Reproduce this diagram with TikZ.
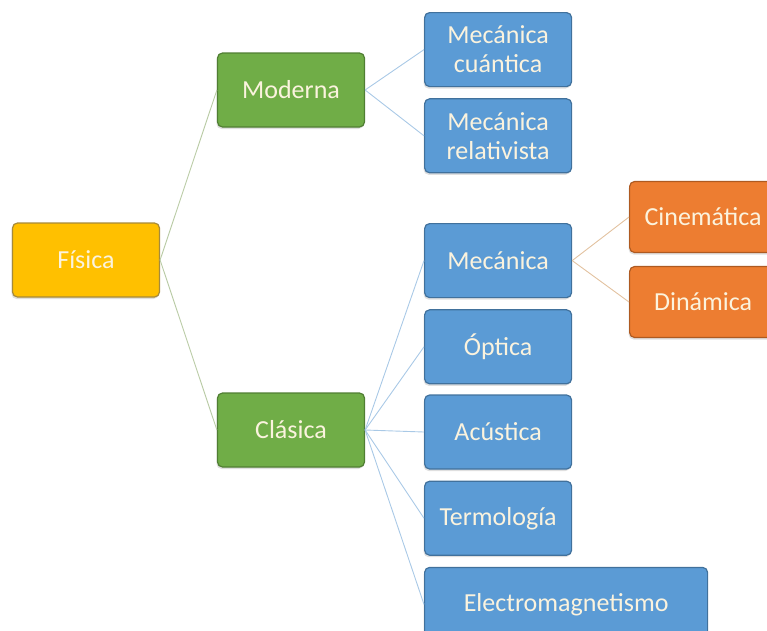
\documentclass[tikz,border=0pt]{standalone}
\usepackage{fontspec}
\setmainfont{Carlito}
\usetikzlibrary{positioning, shadows}
\definecolor{amarillo}{HTML}{FFC000}
\definecolor{amarilloborde}{HTML}{A68A3A}
\definecolor{verde}{HTML}{70AD47}
\definecolor{verdeborde}{HTML}{507E33}
\definecolor{azul}{HTML}{5B9BD5}
\definecolor{azulborde}{HTML}{41719C}
\definecolor{naranja}{HTML}{ED7D31}
\definecolor{naranjaborde}{HTML}{AE5A21}
\definecolor{textoclaro}{HTML}{FBF3DE}
\definecolor{lineaverde}{HTML}{B9CBA5}
\definecolor{lineaazul}{HTML}{A9C9E6}
\definecolor{lineanaranja}{HTML}{E2C2A0}
\tikzset{
	caja/.style={
			rectangle, rounded corners=5pt, draw, line width=1.2pt,
			minimum width=147pt, minimum height=74pt, inner sep=2pt,
			align=center, text=textoclaro,
			font=\fontsize{26}{29}\selectfont,
			drop shadow={shadow xshift=-1pt, shadow yshift=-2pt, opacity=0.25}},
	raiz/.style={caja, fill=amarillo, draw=amarilloborde},
	rama/.style={caja, fill=verde, draw=verdeborde},
	hoja/.style={caja, fill=azul, draw=azulborde},
	subhoja/.style={caja, fill=naranja, draw=naranjaborde, minimum height=71pt},
	enlace/.style={line width=0.9pt},
		}
\begin{document}
\begin{tikzpicture}[x=1pt, y=-1pt]
	\useasboundingbox (0,0) rectangle (767,630);
	\clip (0,0) rectangle (767,630);

	% raiz y ramas
	\node[raiz] (fisica) at (86,260) {Física};
	\node[rama] (moderna) at (291,90) {Moderna};
	\node[rama] (clasica) at (291,430) {Clásica};

	% hojas de la fisica moderna
	\node[hoja, anchor=north west] (cuantica) at (424,12) {Mecánica\\cuántica};
	\node[hoja, below=11pt of cuantica] (relativista) {Mecánica\\relativista};

	% hojas de la fisica clasica
	\node[hoja, anchor=north west] (mecanica) at (424,223) {Mecánica};
	\node[hoja, below=11pt of mecanica] (optica) {Óptica};
	\node[hoja, below=10pt of optica] (acustica) {Acústica};
	\node[hoja, below=11pt of acustica] (termologia) {Termología};
	\node[hoja, minimum width=283pt, anchor=north west] (electro)
		at ([yshift=-11pt]termologia.south west) {Electromagnetismo};

	% mecanica
	\node[subhoja, anchor=west] (cinematica) at (629,217) {Cinemática};
	\node[subhoja, anchor=west] (dinamica) at (629,302) {Dinámica};

	% enlaces
	\begin{scope}[enlace]
		\draw[lineaverde] (fisica.east) -- (moderna.west);
		\draw[lineaverde] (fisica.east) -- (clasica.west);
		\foreach \hijo in {cuantica, relativista}
			\draw[lineaazul] (moderna.east) -- (\hijo.west);
		\foreach \hijo in {mecanica, optica, acustica, termologia, electro}
			\draw[lineaazul] (clasica.east) -- (\hijo.west);
		\draw[lineanaranja] (mecanica.east) -- (cinematica.west);
		\draw[lineanaranja] (mecanica.east) -- (dinamica.west);
	\end{scope}
%
\end{tikzpicture}
\end{document}
